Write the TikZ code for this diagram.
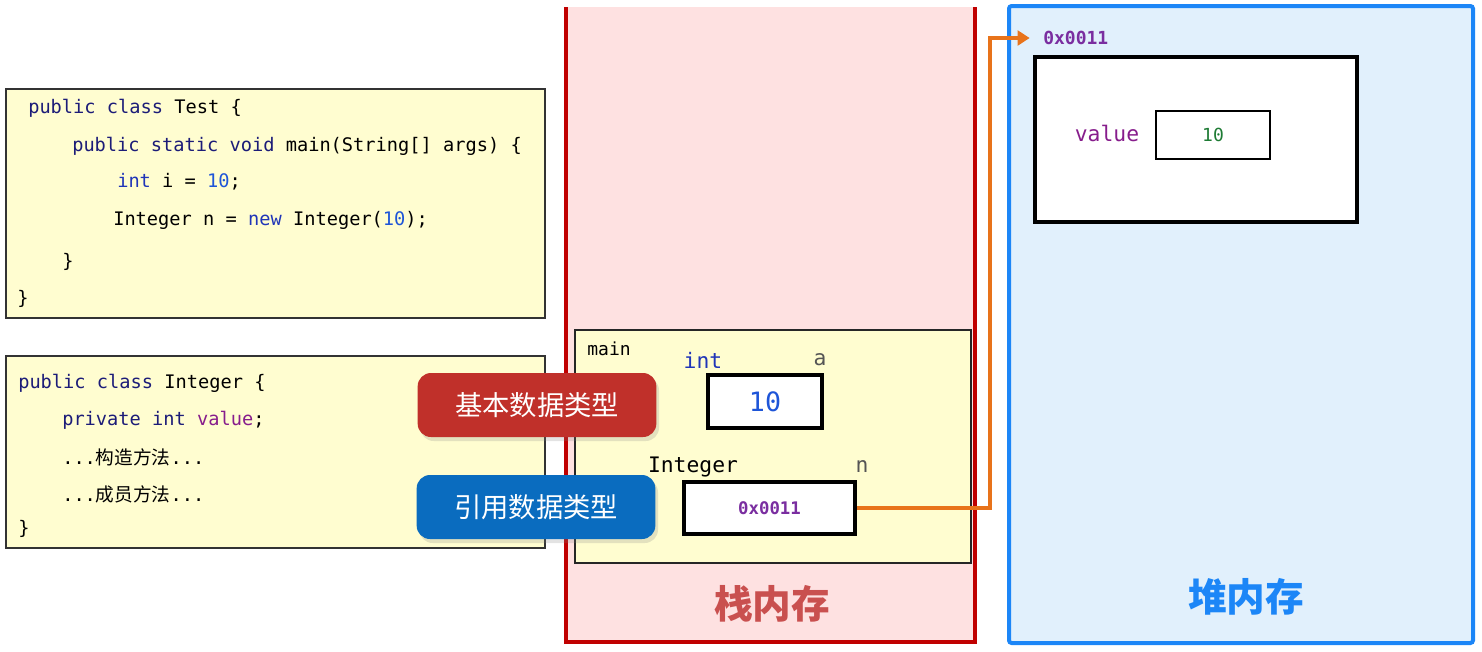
\documentclass[tikz,border=0pt]{standalone}
\usepackage{fontspec}
\setmonofont{DejaVu Sans Mono}
\newfontfamily\cjk{Noto Sans CJK SC}
\usetikzlibrary{arrows.meta,shadows}

\definecolor{stackfill}{HTML}{FEE1E1}
\definecolor{stackred}{HTML}{C00000}
\definecolor{stacktxt}{HTML}{C9504F}
\definecolor{heapfill}{HTML}{E1F0FC}
\definecolor{heapblue}{HTML}{1C86F7}
\definecolor{codefill}{HTML}{FFFDD0}
\definecolor{pillred}{HTML}{C0302A}
\definecolor{pillblue}{HTML}{0A6CBF}
\definecolor{ptrorange}{HTML}{E8731A}
\definecolor{addrpurple}{HTML}{7A2EA0}
\definecolor{fieldpurple}{HTML}{871D8C}
\definecolor{numgreen}{HTML}{1E7B34}
\definecolor{numblue}{HTML}{1E55D8}
\definecolor{kw}{HTML}{1C1C78}
\definecolor{kwblue}{HTML}{2035B8}
\definecolor{vargray}{HTML}{555555}

\newcommand\codesize{\ttfamily\fontsize{14}{17}\selectfont}

\begin{document}
\begin{tikzpicture}[x=0.75pt,y=0.75pt,yscale=-1,xscale=1,
  code/.style={anchor=west,inner sep=0pt,font=\codesize},
  lbl/.style={inner sep=0pt,font=\ttfamily\fontsize{16}{19}\selectfont},
  cell/.style={draw,fill=white,line width=2.6pt,inner sep=0pt},
  pill/.style={rounded corners=10pt,minimum width=179pt,minimum height=48pt,text=white,
    font=\cjk\fontsize{20.5}{24}\selectfont,
    drop shadow={opacity=0.22,shadow xshift=2pt,shadow yshift=-3pt}},
  bigcn/.style={inner sep=0pt,font=\cjk\bfseries\fontsize{29}{34}\selectfont}]
\useasboundingbox (0,0) rectangle (1482,651);

%Shape: Rectangle [stack]
\fill[stackfill] (566,7) rectangle (975,642);
\draw[stackred,line width=3pt] (566,7) -- (566,642) -- (975,642) -- (975,7);
%Shape: Rectangle [heap]
\draw[heapblue,fill=heapfill,line width=3pt,rounded corners=2pt] (1009,6) rectangle (1473,643);

%Shape: Rectangle [code boxes]
\draw[fill=codefill,draw=black!80,line width=1pt] (6,89) rectangle (545,318);
\draw[fill=codefill,draw=black!80,line width=1pt] (6,356) rectangle (545,548);
%Shape: Rectangle [main frame]
\draw[fill=codefill,draw=black!85,line width=0.8pt] (575,330) rectangle (971,563);

% Text Node
\node[code] (t1) at (28,108) {{\color{kw}public class} Test \{};
\node[code] (t2) at (72,146) {{\color{kw}public static void} main(String[] args) \{};
\node[code] (t3) at (117,182) {{\color{kwblue}int} i = {\color{numblue}10};};
\node[code] (t4) at (113,220) {Integer n = {\color{kwblue}new} Integer({\color{numblue}10});};
\node[code] (t5) at (62,262) {\}};
\node[code] (t6) at (17,299) {\}};

% Text Node
\node[code] (i1) at (18,383) {{\color{kw}public class} Integer \{};
\node[code] (i2) at (62,420) {{\color{kw}private int} {\color{fieldpurple}value};};
\node[code] (i3) at (62,457) {...{\cjk 构造方法}...};
\node[code] (i4) at (62,494) {...{\cjk 成员方法}...};
\node[code] (i5) at (18,529) {\}};

%Shape: Pills
\node[pill,fill=pillred] (prim) at (537,405) {基本数据类型};
\node[pill,fill=pillblue] (refty) at (536,507) {引用数据类型};

% Stack frame contents
\node[inner sep=0pt,font=\ttfamily\fontsize{13.5}{16}\selectfont] (frame) at (609,349) {main};
\node[lbl,text=kwblue] (tint) at (703,360) {int};
\node[lbl,text=vargray] (va) at (820,360) {a};
\node[cell,minimum width=85.5pt,minimum height=39.75pt,text=numblue,
  font=\ttfamily\fontsize{20}{23}\selectfont] (abox) at (765,401.5) {10};
\node[lbl] (tinteger) at (693,467) {Integer};
\node[lbl,text=vargray] (vn) at (862,467) {n};
\node[cell,minimum width=128.25pt,minimum height=39pt,text=addrpurple,
  font=\ttfamily\bfseries\fontsize{13}{16}\selectfont] (nbox) at (769.5,508) {0x0011};

% Heap contents
\node[anchor=west,inner sep=0pt,text=addrpurple,font=\ttfamily\bfseries\fontsize{13.5}{16}\selectfont] (addr) at (1043,38) {0x0011};
\node[cell,minimum width=241.5pt,minimum height=123.75pt] (obj) at (1196,139.5) {};
\node[lbl,text=fieldpurple] (fval) at (1107,133) {value};
\node[draw,fill=white,line width=1.8pt,minimum width=85.5pt,minimum height=36pt,inner sep=0pt,
  text=numgreen,font=\ttfamily\fontsize{13.5}{16}\selectfont] (vbox) at (1213,135) {10};

%Connector: reference
\draw[ptrorange,line width=3pt,-{Triangle[length=9pt,width=11pt]}]
  (nbox.east) -- ++(133,0) |- ([xshift=-10pt]addr.west);

% Titles
\node[bigcn,text=stacktxt] (stk) at (772,604) {栈内存};
\node[bigcn,text=heapblue] (hp) at (1246,597) {堆内存};

\end{tikzpicture}
\end{document}
